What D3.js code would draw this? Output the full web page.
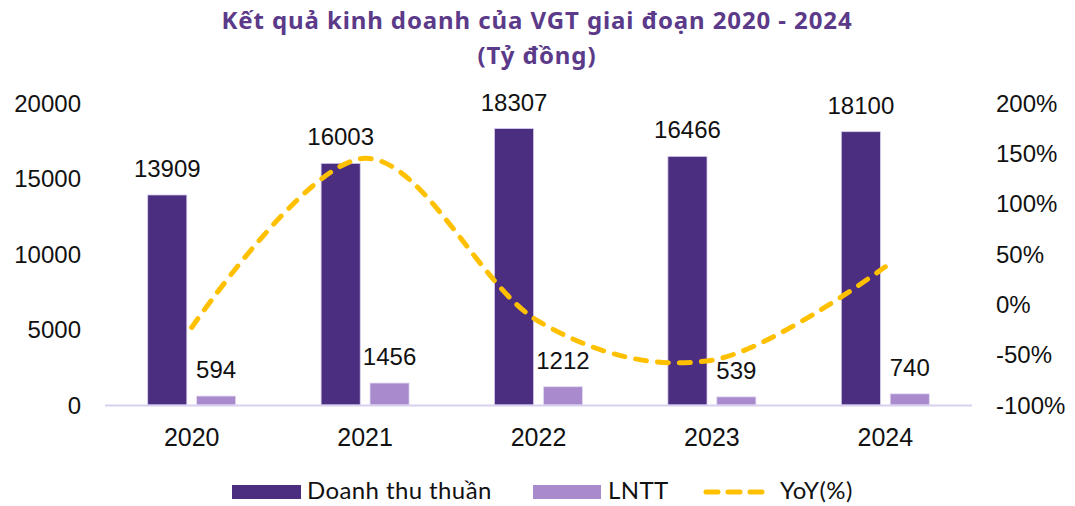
<!DOCTYPE html>
<html>
<head>
<meta charset="utf-8">
<script src="https://cdn.jsdelivr.net/npm/d3@7"></script>
<style>
  body { margin: 0; background: #fff; }
  svg { display: block; }
</style>
</head>
<body>
<svg id="chart" width="1075" height="506"></svg>
<script>
// data
var years = ["2020", "2021", "2022", "2023", "2024"];
var doanhThu = [13909, 16003, 18307, 16466, 18100];
var lntt = [594, 1456, 1212, 539, 740];
var yoy = [-0.23, 1.45, -0.168, -0.555, 0.373];
var leftTicks = [0, 5000, 10000, 15000, 20000];
var rightTicks = [-1, -0.5, 0, 0.5, 1, 1.5, 2];

var darkColor = "#4b2e80",
    lightColor = "#a98bcd",
    lineColor = "#ffc000",
    titleColor = "#5b3a89",
    numFont = "'Liberation Sans', Arial, sans-serif";

var svg = d3.select("#chart");

// title
svg.append("text")
   .attr("x", 537).attr("y", 29)
   .attr("text-anchor", "middle")
   .attr("font-family", "'Noto Sans', sans-serif")
   .attr("font-weight", "bold")
   .attr("font-size", "24px")
   .attr("letter-spacing", "0.9px")
   .attr("fill", titleColor)
   .text("Kết quả kinh doanh của VGT giai đoạn 2020 - 2024");
svg.append("text")
   .attr("x", 537).attr("y", 64)
   .attr("text-anchor", "middle")
   .attr("font-family", "'Noto Sans', sans-serif")
   .attr("font-weight", "bold")
   .attr("font-size", "24px")
   .attr("letter-spacing", "0.9px")
   .attr("fill", titleColor)
   .text("(Tỷ đồng)");

// scales
var x0 = d3.scaleBand().domain(years).range([105, 972])
           .paddingInner(0.4925).paddingOuter(0.24625);
var x1 = d3.scaleBand().domain(["dt", "ln"]).range([0, x0.bandwidth()]).paddingInner(0.2);
var yL = d3.scaleLinear().domain([0, 20000]).range([405, 103]);
var yR = d3.scaleLinear().domain([-1, 2]).range([405, 103]);

// left axis labels
svg.append("g").selectAll("text")
   .data(leftTicks).enter().append("text")
   .attr("x", 81).attr("y", function(d) { return yL(d); })
   .attr("dy", "0.36em")
   .attr("text-anchor", "end")
   .attr("font-family", numFont).attr("font-size", "24px").attr("fill", "#111")
   .text(function(d) { return d; });

// right axis labels
svg.append("g").selectAll("text")
   .data(rightTicks).enter().append("text")
   .attr("x", 996).attr("y", function(d) { return yR(d); })
   .attr("dy", "0.36em")
   .attr("text-anchor", "start")
   .attr("font-family", numFont).attr("font-size", "24px").attr("fill", "#111")
   .text(function(d) { return Math.round(d * 100) + "%"; });

// bars
var groups = svg.append("g").selectAll("g")
   .data(years).enter().append("g")
   .attr("transform", function(d) { return "translate(" + x0(d) + ",0)"; });

groups.append("rect")
   .attr("x", x1("dt")).attr("width", x1.bandwidth())
   .attr("y", function(d, i) { return yL(doanhThu[i]); })
   .attr("height", function(d, i) { return yL(0) - yL(doanhThu[i]); })
   .attr("fill", darkColor).attr("stroke", "#d8cdef").attr("stroke-width", 0.8);

groups.append("rect")
   .attr("x", x1("ln")).attr("width", x1.bandwidth())
   .attr("y", function(d, i) { return yL(lntt[i]); })
   .attr("height", function(d, i) { return yL(0) - yL(lntt[i]); })
   .attr("fill", lightColor).attr("stroke", "#e4dcf3").attr("stroke-width", 0.8);

// value labels
groups.append("text")
   .attr("x", x1("dt") + x1.bandwidth() / 2)
   .attr("y", function(d, i) { return yL(doanhThu[i]) - 18; })
   .attr("text-anchor", "middle")
   .attr("font-family", numFont).attr("font-size", "24px").attr("fill", "#111")
   .text(function(d, i) { return doanhThu[i]; });

groups.append("text")
   .attr("x", x1("ln") + x1.bandwidth() / 2)
   .attr("y", function(d, i) { return yL(lntt[i]) - 18; })
   .attr("text-anchor", "middle")
   .attr("font-family", numFont).attr("font-size", "24px").attr("fill", "#111")
   .text(function(d, i) { return lntt[i]; });

// x axis line
svg.append("line")
   .attr("x1", 105).attr("x2", 972)
   .attr("y1", yL(0) + 0.5).attr("y2", yL(0) + 0.5)
   .attr("stroke", "#d9d0ef").attr("stroke-width", 2);

// category labels
svg.append("g").selectAll("text")
   .data(years).enter().append("text")
   .attr("x", function(d) { return x0(d) + x0.bandwidth() / 2; })
   .attr("y", 446)
   .attr("text-anchor", "middle")
   .attr("font-family", numFont).attr("font-size", "25px").attr("fill", "#111")
   .text(function(d) { return d; });

// yoy line
var line = d3.line()
   .x(function(d, i) { return x0(years[i]) + x0.bandwidth() / 2; })
   .y(function(d) { return yR(d); })
   .curve(d3.curveCardinal.tension(0));

svg.append("path")
   .datum(yoy)
   .attr("d", line)
   .attr("fill", "none")
   .attr("stroke", lineColor)
   .attr("stroke-width", 5)
   .attr("stroke-linecap", "round")
   .attr("stroke-dasharray", "11,11");

// legend
var legend = svg.append("g").attr("font-family", "Lato, sans-serif").attr("font-size", "24px")
   .attr("letter-spacing", "0.4px").attr("fill", "#111");
legend.append("rect").attr("x", 232).attr("y", 485).attr("width", 69).attr("height", 14).attr("fill", darkColor);
legend.append("text").attr("x", 307).attr("y", 499).text("Doanh thu thuần");
legend.append("rect").attr("x", 533).attr("y", 485).attr("width", 68).attr("height", 14).attr("fill", lightColor);
legend.append("text").attr("x", 608).attr("y", 499).text("LNTT");
legend.append("line")
   .attr("x1", 706).attr("x2", 766).attr("y1", 492).attr("y2", 492)
   .attr("stroke", lineColor).attr("stroke-width", 5)
   .attr("stroke-linecap", "round").attr("stroke-dasharray", "12,10");
legend.append("text").attr("x", 780).attr("y", 499).text("YoY(%)");
</script>
</body>
</html>
